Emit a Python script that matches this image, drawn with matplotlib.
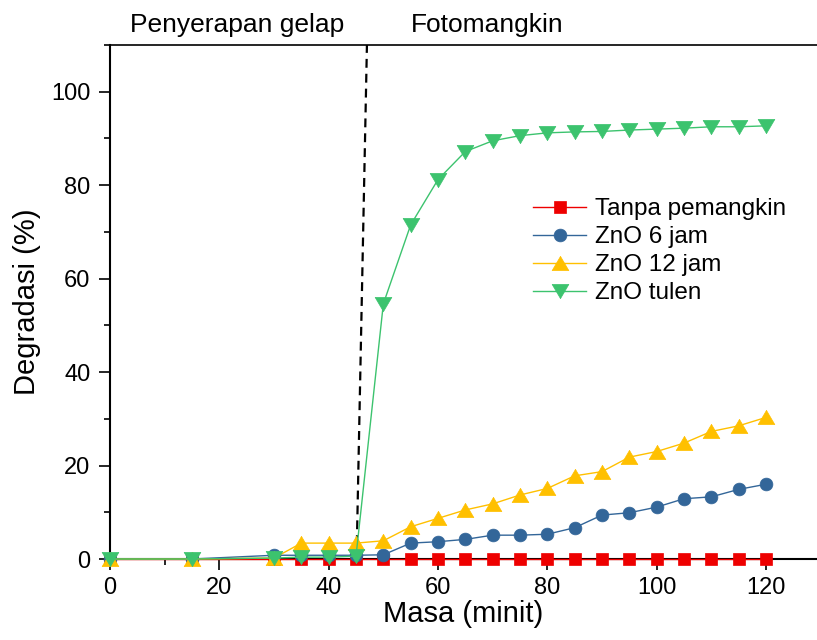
import matplotlib
matplotlib.use("Agg")
import matplotlib.pyplot as plt
import numpy as np

plt.rcParams['font.family'] = ['Liberation Sans', 'DejaVu Sans']

# ---- data ----
masa = [0, 15, 30, 35, 40, 45, 50, 55, 60, 65, 70, 75, 80, 85, 90, 95, 100, 105, 110, 115, 120]
tanpa_pemangkin = [0] * 21
zno_6jam = [0, 0, 0.8, 0.8, 0.8, 0.8, 0.9, 3.4, 3.7, 4.2, 5.1, 5.1, 5.3, 6.7, 9.4, 9.9, 11.1, 12.9, 13.3, 14.9, 16.0]
zno_12jam = [0, 0, 0.2, 3.4, 3.4, 3.4, 3.9, 6.9, 8.7, 10.5, 11.8, 13.7, 15.1, 17.8, 18.7, 21.8, 23.0, 24.8, 27.3, 28.5, 30.3]
zno_tulen = [0, 0, 0.2, 0.4, 0.4, 0.6, 54.6, 71.5, 81.2, 87.2, 89.5, 90.6, 91.2, 91.4, 91.5, 91.8, 92.0, 92.2, 92.5, 92.5, 92.7]
labels = ["Tanpa pemangkin", "ZnO 6 jam", "ZnO 12 jam", "ZnO tulen"]
x_ticks = [0, 20, 40, 60, 80, 100, 120]
y_ticks = [0, 20, 40, 60, 80, 100]
divider_x = (45.1, 47.0)
region_labels = ["Penyerapan gelap", "Fotomangkin"]
region_x = [23.2, 69.0]

# ---- figure ----
fig = plt.figure(figsize=(8.17, 6.4), dpi=100)
ax = fig.add_axes([110/817, 81/640, (817-110)/817, 514/640])

up_tri = [(0, 0.85), (-1, -0.85), (1, -0.85), (0, 0.85)]
down_tri = [(0, -0.85), (-1, 0.85), (1, 0.85), (0, -0.85)]

styles = [
    dict(color='#EE0000', marker='s', ms=8.8),
    dict(color='#336699', marker='o', ms=9.2),
    dict(color='#FFC000', marker=up_tri, ms=12),
    dict(color='#3CC36E', marker=down_tri, ms=12),
]
series = [tanpa_pemangkin, zno_6jam, zno_12jam, zno_tulen]
for y, lab, st in zip(series, labels, styles):
    ax.plot(masa, y, color=st['color'], lw=1.0, marker=st['marker'], ms=st['ms'],
            mec=st['color'], mfc=st['color'], mew=0.5, label=lab, clip_on=False, zorder=3)

ax.plot([divider_x[0], divider_x[1]], [0, 110], color='black', lw=1.6,
        dashes=(4.0, 2.7), zorder=2)

ax.set_xlim(0, (817-110)/5.4667)
ax.set_ylim(0, 110)
ax.set_xticks(x_ticks)
ax.set_yticks(y_ticks)
ax.set_xticks([10, 30, 50, 70, 90, 110], minor=True)
ax.set_yticks([10, 30, 50, 70, 90, 110], minor=True)
ax.tick_params(which='major', length=8, width=1.2, labelsize=17, direction='out', pad=5)
ax.tick_params(axis='y', which='major', pad=6)
ax.tick_params(which='minor', length=4, width=1.2, direction='out')

for s in ['left', 'bottom']:
    ax.spines[s].set_linewidth(1.5)
ax.spines['top'].set_linewidth(1.2)
ax.spines['right'].set_visible(False)

ax.set_xlabel("Masa (minit)", fontsize=21, labelpad=1)
ax.set_ylabel("Degradasi (%)", fontsize=21, labelpad=7)

trans = matplotlib.transforms.blended_transform_factory(ax.transData, ax.transAxes)
for t, xx in zip(region_labels, region_x):
    ax.text(xx, 1.039, t, transform=trans, ha='center', va='center', fontsize=19)

leg = ax.legend(loc='upper left', bbox_to_anchor=(0.598, 0.702), frameon=False,
                fontsize=17.5, handlelength=2.2, handletextpad=0.35,
                labelspacing=0.25, borderpad=0, borderaxespad=0)

fig.savefig("out.png", dpi=100)
